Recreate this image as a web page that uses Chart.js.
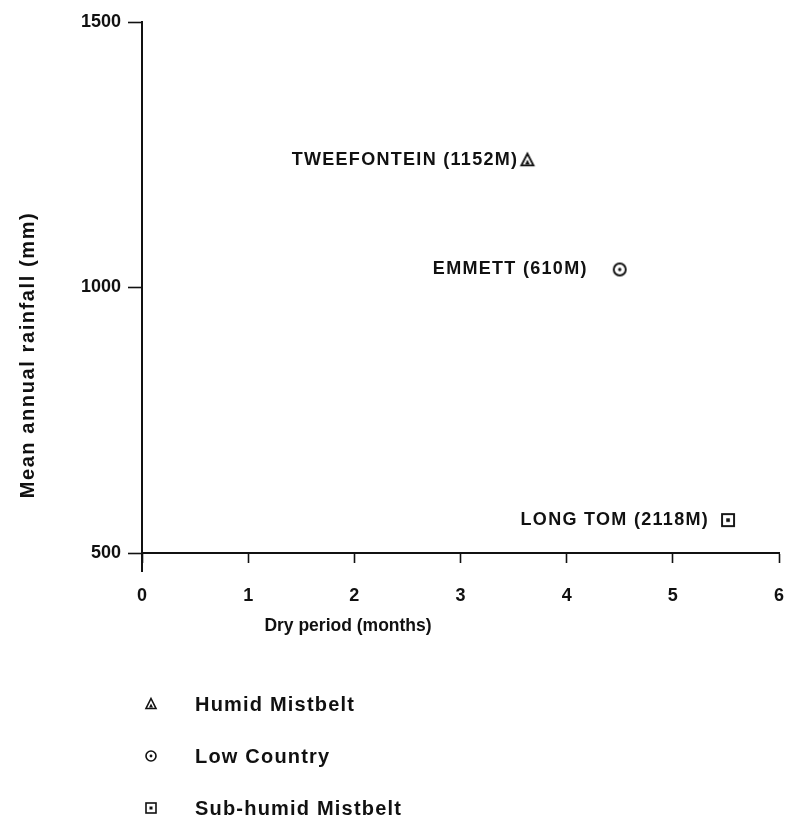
<!DOCTYPE html>
<html>
<head>
<meta charset="utf-8">
<script src="https://cdn.jsdelivr.net/npm/chart.js@4.4.1/dist/chart.umd.min.js"></script>
<style>
  html, body { margin: 0; padding: 0; background: #fff; }
  #wrap { width: 791px; height: 821px; }
</style>
</head>
<body>
<div id="wrap"><canvas id="c" width="791" height="821"></canvas></div>
<script>
// Climate zones, stations and their values
const zones = ['Humid Mistbelt', 'Low Country', 'Sub-humid Mistbelt'];
const stations = ['TWEEFONTEIN (1152M)', 'EMMETT (610M)', 'LONG TOM (2118M)'];
const dryMonths = [3.63, 4.50, 5.52];
const rainfallMm = [1240, 1034, 562];
const xTicks = [0, 1, 2, 3, 4, 5, 6];
const yTicks = [500, 1000, 1500];
const xTitle = 'Dry period (months)';
const yTitle = 'Mean annual rainfall (mm)';

const FONT = '"Liberation Sans", Arial, Helvetica, sans-serif';
const INK = '#111';

// Marker glyphs: outlined triangle / circle / square with a centre dot
function drawMarker(ctx, kind, cx, cy, s) {
  ctx.save();
  ctx.strokeStyle = INK;
  ctx.fillStyle = INK;
  ctx.lineWidth = Math.max(1.5, s * 0.16);
  ctx.beginPath();
  if (kind === 'triangle') {
    const h = s * 0.9;
    ctx.moveTo(cx, cy - h / 2 - 1);
    ctx.lineTo(cx + s / 2, cy + h / 2);
    ctx.lineTo(cx - s / 2, cy + h / 2);
    ctx.closePath();
    ctx.stroke();
    ctx.beginPath();
    ctx.moveTo(cx, cy - 0.5);
    ctx.lineTo(cx + s * 0.2, cy + h / 2 - 1);
    ctx.lineTo(cx - s * 0.2, cy + h / 2 - 1);
    ctx.closePath();
    ctx.fill();
  } else if (kind === 'circle') {
    ctx.arc(cx, cy, s / 2, 0, Math.PI * 2);
    ctx.stroke();
    ctx.beginPath();
    ctx.arc(cx, cy, s * 0.14, 0, Math.PI * 2);
    ctx.fill();
  } else {
    ctx.strokeRect(cx - s / 2, cy - s / 2, s, s);
    ctx.fillRect(cx - s * 0.15, cy - s * 0.15, s * 0.3, s * 0.3);
  }
  ctx.restore();
}

function markerImage(kind, s) {
  const pad = 4;
  const c = document.createElement('canvas');
  c.width = c.height = s + pad * 2;
  drawMarker(c.getContext('2d'), kind, c.width / 2, c.height / 2, s);
  return c;
}

const kinds = ['triangle', 'circle', 'square'];

const datasets = zones.map((z, i) => ({
  label: z,
  data: [{ x: dryMonths[i], y: rainfallMm[i] }],
  pointStyle: markerImage(kinds[i], 12),
  pointRadius: 6,
  pointHoverRadius: 6
}));

// Station names beside each marker, axis titles and the key below the plot
const annotate = {
  id: 'annotate',
  afterDraw(chart) {
    const ctx = chart.ctx;
    const xs = chart.scales.x, ys = chart.scales.y;
    const labelGap = [9, 32, 19];
    ctx.save();
    ctx.fillStyle = INK;

    // y-axis line carried a little below the x axis
    ctx.strokeStyle = INK;
    ctx.lineWidth = 2;
    ctx.beginPath();
    const x0 = xs.getPixelForValue(0);
    ctx.moveTo(x0, ys.bottom);
    ctx.lineTo(x0, ys.bottom + 19);
    ctx.stroke();

    // station labels
    ctx.font = 'bold 18px ' + FONT;
    ctx.letterSpacing = '1.3px';
    ctx.textAlign = 'right';
    ctx.textBaseline = 'middle';
    stations.forEach((name, i) => {
      const px = xs.getPixelForValue(dryMonths[i]);
      const py = ys.getPixelForValue(rainfallMm[i]);
      ctx.fillText(name, px - labelGap[i], py);
    });

    // x title
    ctx.letterSpacing = '0px';
    ctx.textAlign = 'center';
    ctx.font = 'bold 17.5px ' + FONT;
    ctx.fillText(xTitle, 348, 626);

    // y title
    ctx.save();
    ctx.translate(28, 355);
    ctx.rotate(-Math.PI / 2);
    ctx.font = 'bold 20px ' + FONT;
    ctx.letterSpacing = '1.6px';
    ctx.fillText(yTitle, 0, 0);
    ctx.restore();

    // key
    ctx.letterSpacing = '1.2px';
    ctx.font = 'bold 20px ' + FONT;
    ctx.textAlign = 'left';
    const rows = [704, 756, 808];
    zones.forEach((z, i) => {
      drawMarker(ctx, kinds[i], 151, rows[i], 10);
      ctx.fillText(z, 195, rows[i] + 1);
    });
    ctx.restore();
  }
};

new Chart(document.getElementById('c'), {
  type: 'scatter',
  data: { datasets },
  plugins: [annotate],
  options: {
    responsive: false,
    animation: false,
    devicePixelRatio: 1,
    events: [],
    layout: { padding: { top: 22, right: 0, left: 0, bottom: 0 } },
    plugins: { legend: { display: false }, tooltip: { enabled: false } },
    scales: {
      x: {
        type: 'linear',
        min: 0, max: 6,
        afterBuildTicks: s => { s.ticks = xTicks.map(v => ({ value: v })); },
        afterFit: s => { s.height = 268; s.paddingRight = 12; },
        ticks: { color: INK, padding: 22, callback: v => String(v), font: { family: FONT, size: 18, weight: 'bold' } },
        grid: { drawOnChartArea: false, drawTicks: true, tickLength: 10, tickColor: INK, tickWidth: 1.6 },
        border: { color: INK, width: 2 }
      },
      y: {
        type: 'linear',
        min: 500, max: 1500,
        afterBuildTicks: s => { s.ticks = yTicks.map(v => ({ value: v })); },
        afterFit: s => { s.width = 142; },
        ticks: { color: INK, padding: 7, callback: v => String(v), font: { family: FONT, size: 18, weight: 'bold' } },
        grid: { drawOnChartArea: false, drawTicks: true, tickLength: 14, tickColor: INK, tickWidth: 1.6 },
        border: { color: INK, width: 2 }
      }
    }
  }
});
</script>
</body>
</html>
